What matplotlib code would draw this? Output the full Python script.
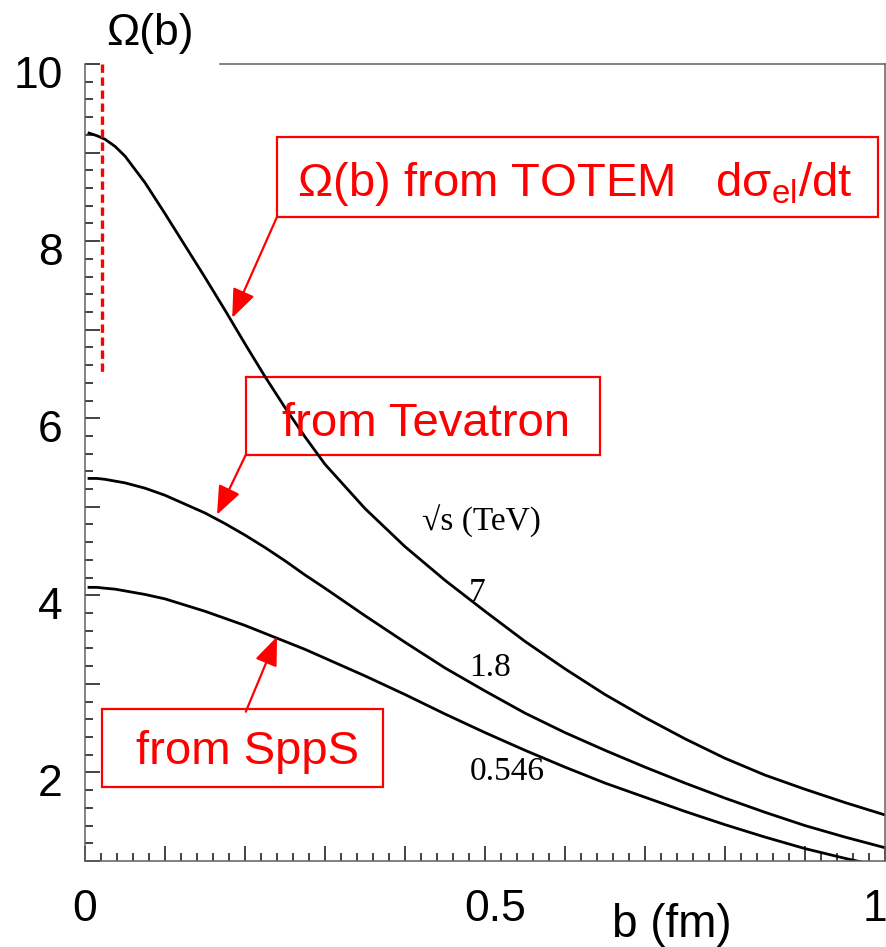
import matplotlib
matplotlib.use("Agg")
import matplotlib.pyplot as plt
import matplotlib.transforms as mtransforms
from matplotlib.patches import Rectangle
import numpy as np

plt.rcParams['font.family'] = ['Liberation Sans', 'DejaVu Sans']
plt.rcParams['mathtext.fontset'] = 'custom'
plt.rcParams['mathtext.rm'] = 'Liberation Sans'
plt.rcParams['mathtext.it'] = 'Liberation Sans:italic'

# impact parameter b (fm)
b = [0.005, 0.015, 0.025, 0.0375, 0.05, 0.075, 0.10, 0.125, 0.15, 0.175, 0.20, 0.225,
     0.25, 0.275, 0.30, 0.35, 0.40, 0.45, 0.50, 0.55, 0.60, 0.65, 0.70, 0.75, 0.80,
     0.85, 0.90, 0.95, 1.00]
# Omega(b) for sqrt(s) = 7, 1.8, 0.546 TeV
om_7 = [9.22, 9.19, 9.15, 9.07, 8.96, 8.66, 8.31, 7.95, 7.59, 7.22, 6.84, 6.47,
        6.12, 5.79, 5.48, 4.98, 4.55, 4.17, 3.82, 3.48, 3.17, 2.88, 2.62, 2.38, 2.16,
        1.97, 1.81, 1.66, 1.52]
om_18 = [5.32, 5.32, 5.31, 5.29, 5.27, 5.21, 5.13, 5.03, 4.93, 4.81, 4.68, 4.54,
         4.39, 4.23, 4.08, 3.77, 3.47, 3.18, 2.92, 2.67, 2.45, 2.25, 2.06, 1.88, 1.71,
         1.55, 1.40, 1.27, 1.15]
om_0546 = [4.09, 4.09, 4.08, 4.07, 4.05, 4.01, 3.96, 3.89, 3.82, 3.74, 3.66, 3.57,
           3.48, 3.39, 3.29, 3.09, 2.88, 2.66, 2.45, 2.25, 2.06, 1.88, 1.72, 1.56, 1.41,
           1.27, 1.14, 1.03, 0.93]
curve_labels = ['7', '1.8', '0.546']

fig = plt.figure(figsize=(8.87, 9.47), dpi=100)
ax = fig.add_axes([85/887, 1-861/947, 800/887, 797/947])

for y in (om_7, om_18, om_0546):
    ax.plot(b, y, color='black', lw=2.0, solid_joinstyle='round')

ax.set_xlim(0, 1)
ax.set_ylim(1, 10)

# ticks, ROOT style
ax.set_xticks(np.arange(0, 1.001, 0.1))
ax.set_xticklabels(['0', '', '', '', '', '0.5', '', '', '', '', '1'])
ax.set_xticks(np.arange(0, 1.001, 0.02), minor=True)
ax.set_yticks(range(1, 11))
ax.set_yticklabels(['', '2', '', '4', '', '6', '', '8', '', '10'])
ax.set_yticks(np.arange(1, 10.01, 0.2), minor=True)
ax.tick_params(which='both', direction='in', top=False, right=False,
               color='#222222', width=1.2, labelsize=32)
ax.tick_params(which='major', length=11)
ax.tick_params(which='minor', length=6)
ax.tick_params(axis='x', pad=20)
ax.tick_params(axis='y', pad=16)
off = mtransforms.ScaledTranslation(0, -8/100, fig.dpi_scale_trans)
for lab in ax.get_yticklabels():
    lab.set_transform(lab.get_transform() + off)
xl = ax.get_xticklabels()
xl[5].set_transform(xl[5].get_transform()
                    + mtransforms.ScaledTranslation(10/100, 0, fig.dpi_scale_trans))
xl[10].set_transform(xl[10].get_transform()
                     + mtransforms.ScaledTranslation(-10/100, 0, fig.dpi_scale_trans))

for s in ax.spines.values():
    s.set_color('#606060')
    s.set_linewidth(1.1)
ax.spines['top'].set_visible(False)
ax.plot([0.169, 1], [1, 1], transform=ax.transAxes, color='#606060', lw=1.1,
        clip_on=False)

# axis titles
fig.text(150/887, 1-33/947, 'Ω(b)', fontsize=32, ha='center', va='center')
fig.text(672/887, 1-925/947, 'b (fm)', fontsize=33, ha='center', va='center')

# red dashed marker
ax.plot([0.021, 0.021], [10, 6.51], color='red', lw=2.4, ls=(0, (2.5, 1.4)))

# annotation boxes
red = '#ff0000'
boxes = [((0.24, 8.273), 0.751, 0.903), ((0.201, 5.587), 0.443, 0.88),
         ((0.021, 1.83), 0.3515, 0.89)]
for (x0, y0), w, h in boxes:
    ax.add_patch(Rectangle((x0, y0), w, h, fill=False, edgecolor=red, lw=1.6,
                           clip_on=False))

ax.text(0.265, 8.51, 'Ω(b) from TOTEM   dσ$_{\\mathrm{el}}$/dt', color=red,
        fontsize=34, ha='left', va='baseline')
ax.text(0.246, 5.80, 'from Tevatron', color=red, fontsize=34, ha='left',
        va='baseline')
ax.text(0.064, 2.09, 'from SppS', color=red, fontsize=34, ha='left',
        va='baseline')

arrows = [((0.24, 8.273), (0.184, 7.133)), ((0.201, 5.587), (0.165, 4.91)),
          ((0.201, 2.686), (0.24, 3.533))]
for start, tip in arrows:
    ax.annotate('', xy=tip, xytext=start,
                arrowprops=dict(arrowstyle='-|>,head_length=0.8,head_width=0.32',
                                color=red, lw=1.6, mutation_scale=22,
                                shrinkA=0, shrinkB=0))

# curve labels
serif = ['Liberation Serif', 'DejaVu Serif']
ax.text(0.495, 4.83, '√s (TeV)', fontsize=24, family=serif, ha='center', va='center')
label_pos = [(0.49, 4.03), (0.506, 3.18), (0.5275, 2.01)]
for txt, (x, y) in zip(curve_labels, label_pos):
    ax.text(x, y, txt, fontsize=24, family=serif, ha='center', va='center')

fig.savefig('out.png', dpi=100)
